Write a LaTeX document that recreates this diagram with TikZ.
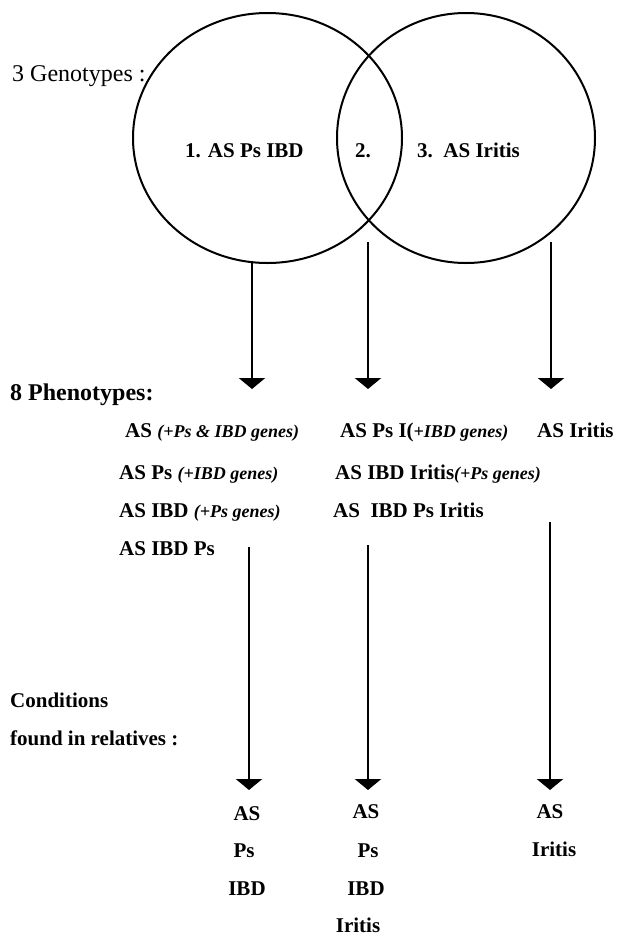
\documentclass[tikz,border=0pt]{standalone}
\usepackage{fontspec}
\setmainfont{Liberation Serif}
\usetikzlibrary{arrows.meta,shapes.geometric}
\newcommand\genesit[1]{{\fontsize{18}{20}\selectfont\bfseries\itshape #1}}
\begin{document}
\begin{tikzpicture}[x=1pt,y=-1pt,
  lbl/.style={inner sep=0pt, anchor=base west, font=\fontsize{21}{24}\selectfont\bfseries},
  clbl/.style={inner sep=0pt, anchor=base, font=\fontsize{21}{24}\selectfont\bfseries},
  head/.style={inner sep=0pt, anchor=base west, font=\fontsize{24}{28}\selectfont\bfseries},
  venn/.style={draw, line width=2pt, ellipse, inner sep=0pt},
  arr/.style={line width=2.8pt, -{Triangle[width=26pt,length=11pt]}}]
\useasboundingbox (0,0) rectangle (618,935);

% Venn diagram
\node[venn, minimum width=269pt, minimum height=250pt] (L) at (267.5,138) {};
\node[venn, minimum width=258pt, minimum height=250pt] (R) at (466,138) {};

\node[inner sep=0pt, anchor=base west, font=\fontsize{24}{28}\selectfont] (geno) at (12,81) {3 Genotypes :};
\node[lbl] (g1t) at (185,157) {1. AS Ps IBD};
\node[lbl] (g2t) at (355,157) {2.};
\node[lbl] (g3t) at (417,157) {3.\ \ AS Iritis};

% first-level arrows
\coordinate (a1) at (252,263);
\coordinate (a2) at (368,242);
\coordinate (a3) at (551,242);
\coordinate (b1) at (252,389);
\coordinate (b2) at (368,389);
\coordinate (b3) at (551,389);
\draw[arr] (a1) -- (b1);
\draw[arr] (a2) -- (b2);
\draw[arr] (a3) -- (b3);

% phenotypes
\node[head] (pheno) at (10,400) {8 Phenotypes:};
\node[lbl] (p11) at (125,437) {AS \genesit{(+Ps \& IBD genes)}};
\node[lbl] (p12) at (340,437) {AS Ps I(\genesit{+IBD genes)}};
\node[lbl] (p13) at (537,437) {AS Iritis};
\node[lbl] (p21) at (119,479) {AS Ps \genesit{(+IBD genes)}};
\node[lbl] (p22) at (335,479) {AS IBD Iritis\genesit{(+Ps genes)}};
\node[lbl] (p31) at (119,517) {AS IBD \genesit{(+Ps genes)}};
\node[lbl] (p32) at (333,517) {AS\ \ IBD Ps Iritis};
\node[lbl] (p41) at (119,555) {AS IBD Ps};

% second-level arrows
\coordinate (c1) at (249,547);
\coordinate (c2) at (368,545);
\coordinate (c3) at (550,522);
\coordinate (d1) at (249,790);
\coordinate (d2) at (368,790);
\coordinate (d3) at (550,790);
\draw[arr] (c1) -- (d1);
\draw[arr] (c2) -- (d2);
\draw[arr] (c3) -- (d3);

% relatives
\node[lbl] (cond) at (10,707) {Conditions};
\node[lbl] (found) at (10,745) {found in relatives :};

\node[clbl] (r11) at (247,820) {AS};
\node[clbl] (r12) at (244,857) {Ps};
\node[clbl] (r13) at (247,895) {IBD};

\node[clbl] (r21) at (366,818) {AS};
\node[clbl] (r22) at (368,857) {Ps};
\node[clbl] (r23) at (366,895) {IBD};
\node[clbl] (r24) at (358,932) {Iritis};

\node[clbl] (r31) at (550,818) {AS};
\node[clbl] (r32) at (554,856) {Iritis};
\end{tikzpicture}
\end{document}
